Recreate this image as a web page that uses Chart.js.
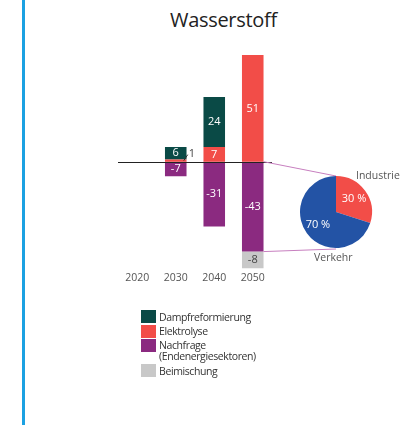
<!DOCTYPE html>
<html><head><meta charset="utf-8">
<script src="https://cdn.jsdelivr.net/npm/chart.js@4"></script>
<style>
html,body{margin:0;padding:0;background:#fff;}
#wrap{position:relative;width:414px;height:427px;overflow:hidden;font-family:"Open Sans",sans-serif;}
#bar{position:absolute;left:0;top:0;}
#pie{position:absolute;left:292px;top:168px;}
#vline{position:absolute;left:22px;top:0;width:3px;height:425px;background:#1ba1e2;}
#title{position:absolute;left:170px;width:106px;top:6px;text-align:center;font-size:20px;color:#222;letter-spacing:-0.3px;white-space:nowrap;}
#legend{position:absolute;left:141px;top:310px;font-size:10.5px;color:#333;line-height:12px;letter-spacing:-0.4px;}
.li{display:flex;align-items:flex-start;margin-bottom:1.5px;}
.sw{width:15px;height:13px;margin-right:3px;flex:none;}
.li div:last-child{padding-top:0.5px;}
.li.two div:last-child{line-height:11.5px;}
.lbl{position:absolute;font-size:10.5px;color:#555;}
</style></head>
<body><div id="wrap">
<div id="vline"></div>
<div id="title">Wasserstoff</div>
<canvas id="bar" width="414" height="427"></canvas>
<canvas id="pie" width="88" height="88"></canvas>
<div class="lbl" style="left:356px;top:168px;">Industrie</div>
<div class="lbl" style="left:314px;top:250px;">Verkehr</div>
<div id="legend"></div>
</div>
<script>
const categories = ['2020','2030','2040','2050'];
const seriesNames = ['Elektrolyse','Dampfreformierung','Nachfrage (Endenergiesektoren)','Beimischung'];
const elektrolyse = [null, 1, 7, 51];
const dampf = [null, 6, 24, null];
const nachfrage = [null, -7, -31, -43];
const beimischung = [null, null, null, -8];
const pieLabels = ['Industrie','Verkehr'];
const pieValues = [30, 70];

const C = {dampf:'#0a4a46', elek:'#f24d48', nach:'#8b2a80', beim:'#c8c8c8', blue:'#2353a5'};

const legendItems = [
  ['Dampfreformierung', C.dampf],
  ['Elektrolyse', C.elek],
  ['Nachfrage<br>(Endenergiesektoren)', C.nach],
  ['Beimischung', C.beim]
];
document.getElementById('legend').innerHTML = legendItems.map(([t,c]) =>
  `<div class="li${t.includes('<br>') ? ' two' : ''}"><div class="sw" style="background:${c}"></div><div>${t}</div></div>`).join('');

let pieChart = null;

const labelPlugin = {
  id:'labels',
  afterDatasetsDraw(chart){
    const ctx = chart.ctx;
    const area = chart.chartArea;
    const ys = chart.scales.y;
    ctx.save();
    ctx.strokeStyle = '#222'; ctx.lineWidth = 1;
    const zy = Math.round(ys.getPixelForValue(0)) + 0.5;
    ctx.beginPath(); ctx.moveTo(area.left, zy); ctx.lineTo(area.right, zy); ctx.stroke();
    ctx.font = '11px "Open Sans", sans-serif';
    ctx.textAlign = 'center'; ctx.textBaseline = 'middle';
    chart.data.datasets.forEach((ds, di) => {
      const meta = chart.getDatasetMeta(di);
      meta.data.forEach((el, i) => {
        const v = ds.data[i];
        if (v === null || v === undefined) return;
        const cy = (el.y + el.base) / 2;
        if (Math.abs(v) < 2) {
          ctx.strokeStyle = '#333'; ctx.lineWidth = 1;
          ctx.beginPath(); ctx.moveTo(el.x + 8, cy); ctx.lineTo(el.x + 12, cy - 6); ctx.stroke();
          ctx.fillStyle = '#444'; ctx.textAlign = 'left';
          ctx.fillText(String(v), el.x + 13, cy - 7);
          ctx.textAlign = 'center';
        } else {
          ctx.fillStyle = ds.labelColor;
          ctx.fillText(String(v), el.x, cy);
        }
      });
    });
    const m = chart.getDatasetMeta(2).data[3];
    const bw = m.width / 2;
    ctx.strokeStyle = '#c77fbf'; ctx.lineWidth = 1;
    ctx.beginPath();
    ctx.moveTo(m.x + bw, m.base); ctx.lineTo(336, 176);
    ctx.moveTo(m.x + bw, m.y); ctx.lineTo(336, 249);
    ctx.stroke();
    ctx.restore();
  }
};

const barChart = new Chart(document.getElementById('bar'), {
  type:'bar',
  data:{
    labels: categories,
    datasets:[
      {label:seriesNames[0], data:elektrolyse, backgroundColor:C.elek, labelColor:'#fff', stack:'s'},
      {label:seriesNames[1], data:dampf, backgroundColor:C.dampf, labelColor:'#fff', stack:'s'},
      {label:seriesNames[2], data:nachfrage, backgroundColor:C.nach, labelColor:'#fff', stack:'s'},
      {label:seriesNames[3], data:beimischung, backgroundColor:C.beim, labelColor:'#444', stack:'s'}
    ]
  },
  options:{
    responsive:false, animation:false,
    layout:{padding:{left:118, right:142, top:53, bottom:142}},
    datasets:{bar:{categoryPercentage:1, barPercentage:0.56}},
    plugins:{legend:{display:false}, tooltip:{enabled:false}},
    scales:{
      x:{stacked:true, grid:{display:false, drawTicks:false}, border:{display:false},
         ticks:{color:'#555', font:{family:'"Open Sans", sans-serif', size:10.5}, padding:1}},
      y:{stacked:true, display:false, min:-52, max:52}
    }
  },
  plugins:[labelPlugin]
});

pieChart = new Chart(document.getElementById('pie'), {
  type:'pie',
  data:{labels:pieLabels, datasets:[{data:pieValues, backgroundColor:[C.elek, C.blue], borderWidth:0}]},
  options:{
    responsive:false, animation:false,
    layout:{padding:8},
    plugins:{legend:{display:false}, tooltip:{enabled:false}}
  },
  plugins:[{
    id:'pielabels',
    afterDatasetsDraw(chart){
      const ctx = chart.ctx;
      ctx.save();
      ctx.font = '11px "Open Sans", sans-serif';
      ctx.fillStyle = '#fff'; ctx.textAlign = 'center'; ctx.textBaseline = 'middle';
      chart.getDatasetMeta(0).data.forEach((a, i) => {
        const mid = (a.startAngle + a.endAngle) / 2;
        const r = a.outerRadius * 0.62;
        ctx.fillText(pieValues[i] + ' %', a.x + Math.cos(mid) * r, a.y + Math.sin(mid) * r);
      });
      ctx.restore();
    }
  }]
});
</script>
</body></html>
